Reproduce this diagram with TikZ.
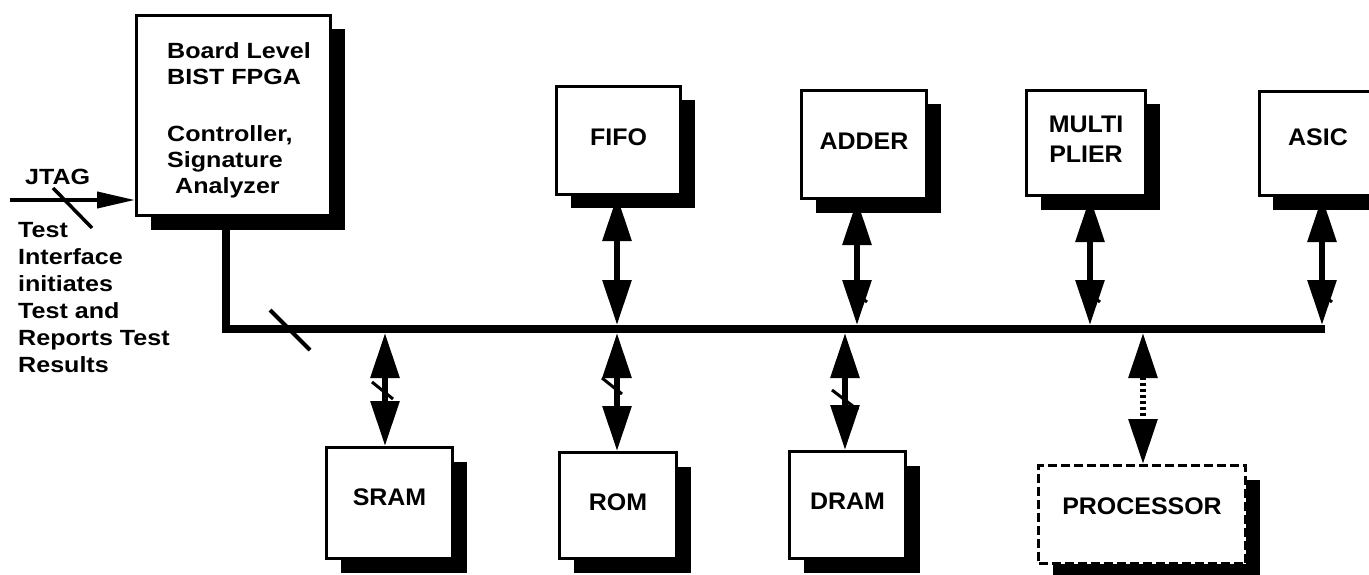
\documentclass[tikz,border=0pt]{standalone}
\usepackage{fontspec}
\setmainfont{Liberation Sans}
\newfontfamily\widefont{Liberation Sans}[FakeStretch=1.14]
\newfontfamily\boxfont{Liberation Sans}[FakeStretch=1.04]
\usetikzlibrary{arrows.meta,shadows,backgrounds}
\begin{document}
\begin{tikzpicture}[x=1pt,y=-1pt,
  box/.style={draw=black, line width=3pt, fill=white, inner sep=0pt,
    drop shadow={shadow xshift=14pt, shadow yshift=-14pt, fill=black, opacity=1},
    font=\boxfont\fontsize{24}{30}\selectfont\bfseries, align=center, text depth=7pt},
  txt/.style={inner sep=0pt, font=\widefont\fontsize{22}{27}\selectfont\bfseries, align=left},
  dbl/.style={line width=6pt, {Triangle[length=45pt,width=28pt]}-{Triangle[length=45pt,width=28pt]}},
  buswire/.style={line width=8pt, line join=miter},
  slashmark/.style={line width=4pt},
  tickmark/.style={line width=3pt}
]
\useasboundingbox (0,0) rectangle (1369,575);
\clip (0,0) rectangle (1369,575);

% boxes
\node[box, minimum width=194pt, minimum height=200pt] (board) at (233.5,115.5) {};
\node[box, minimum width=124pt, minimum height=108pt] (fifo) at (618.5,140.5) {FIFO};
\node[box, minimum width=125pt, minimum height=108pt] (adder) at (864,144.5) {ADDER};
\node[box, minimum width=119pt, minimum height=105pt] (multi) at (1086,143) {MULTI\\PLIER};
\node[box, minimum width=118pt, minimum height=104pt, text depth=12pt] (asic) at (1318,143.5) {ASIC};
\node[box, minimum width=126pt, minimum height=111pt, text depth=12pt] (sram) at (389.5,503) {SRAM};
\node[box, minimum width=117pt, minimum height=106pt] (rom) at (618,505.5) {ROM};
\node[box, minimum width=116pt, minimum height=107pt] (dram) at (847.5,505) {DRAM};
\node[box, dash pattern=on 9pt off 4pt, minimum width=207pt, minimum height=98pt, text depth=16pt] (proc) at (1142,514.5) {PROCESSOR};

% texts
\node[txt, anchor=north west, font=\widefont\fontsize{22}{26}\selectfont\bfseries] (boardtxt) at (167,42) {Board Level\\BIST FPGA\\[31pt]Controller,\\Signature\\\hspace*{8pt}Analyzer};
\node[txt, anchor=north west] (note) at (18,222) {Test\\Interface\\initiates\\Test and\\Reports Test\\Results};
\node[txt, anchor=base west] (jtag) at (25,185) {JTAG};

% bus
\coordinate (busL) at (226,329);
\coordinate (busR) at (1325,329);
\draw[buswire] (board.south -| busL) -- (busL) -- (busR);
\draw[slashmark] (270,310) -- (310,350);

% JTAG input
\coordinate (jtagstart) at (10,200);
\draw[line width=4pt, -{Triangle[length=38pt,width=16pt]}] (jtagstart) -- (board.west |- jtagstart);
\draw[line width=3.5pt] (53,188) -- (92,228);

% arrow positions on bus
\coordinate (xF) at (617,329);
\coordinate (xA) at (857,329);
\coordinate (xM) at (1090,329);
\coordinate (xC) at (1322,329);
\coordinate (xS) at (385,329);
\coordinate (xR) at (617,329);
\coordinate (xD) at (845,329);
\coordinate (xP) at (1143,329);

\begin{scope}[on background layer]
\draw[dbl] (xF |- fifo.south) -- ([yshift=4pt]xF);
\draw[dbl] (xA |- adder.south) -- ([yshift=4pt]xA);
\draw[dbl] (xM |- multi.south) -- ([yshift=4pt]xM);
\draw[dbl] (xC |- asic.south) -- ([yshift=4pt]xC);
\draw[dbl] ([yshift=-4pt]xS) -- (xS |- sram.north);
\draw[dbl] ([yshift=-4pt]xR) -- (xR |- rom.north);
\draw[dbl] ([yshift=-4pt]xD) -- (xD |- dram.north);
\draw[dbl, dash pattern=on 3pt off 3pt] ([yshift=-4pt]xP) -- (xP |- proc.north);
\end{scope}

% small bus-width ticks
\draw[tickmark] (851,290) -- (867,302);
\draw[tickmark] (1084,290) -- (1100,302);
\draw[tickmark] (1316,290) -- (1332,302);
\draw[tickmark] (372,382) -- (393,399);
\draw[tickmark] (602,378) -- (622,394);
\draw[tickmark] (832,390) -- (858,410);
\end{tikzpicture}
\end{document}
